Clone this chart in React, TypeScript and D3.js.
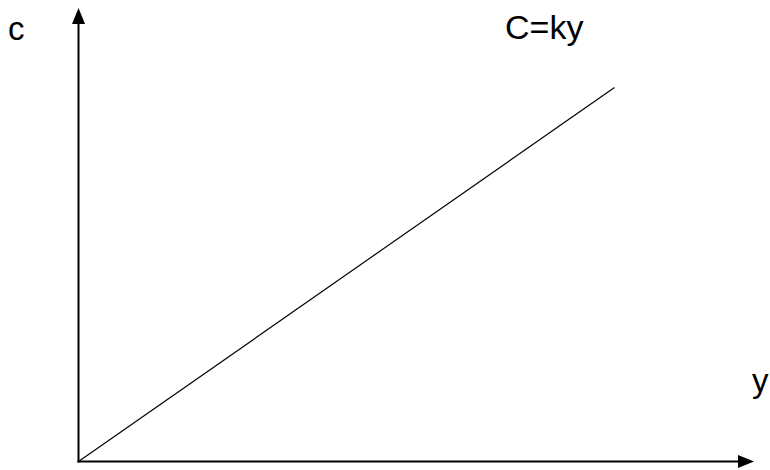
import React from "react";
import * as d3 from "d3";

// Income (y) and consumption (c) along the proportional function C = ky
const incomeValues = [0, 10];
const consumptionValues = [0, 10];
const axisLabels = { x: "y", y: "c" };
const lineLabel = "C=ky";

const W = 770;
const H = 470;
const origin = { x: 78.5, y: 461.5 };
const axisEnd = { x: 754, y: 8 };

export default function App() {
  const xScale = d3.scaleLinear().domain([0, 10]).range([origin.x, 614.5]);
  const yScale = d3.scaleLinear().domain([0, 10]).range([origin.y, 87.5]);

  const points: [number, number][] = incomeValues.map((v, i) => [v, consumptionValues[i]]);
  const line = d3
    .line<[number, number]>()
    .x((d) => xScale(d[0]))
    .y((d) => yScale(d[1]));

  const font = "Liberation Sans, Arial, sans-serif";
  const ah = 16; // arrowhead length
  const aw = 6.5; // arrowhead half-width

  return (
    <svg
      width={W}
      height={H}
      style={{ position: "absolute", left: 0, top: 0, background: "#fff" }}
    >
      {/* vertical axis */}
      <line
        x1={origin.x}
        y1={origin.y + 1}
        x2={origin.x}
        y2={axisEnd.y + ah - 1}
        stroke="#000"
        strokeWidth={2}
      />
      <path
        d={`M${origin.x},${axisEnd.y} L${origin.x - aw},${axisEnd.y + ah} L${origin.x + aw},${axisEnd.y + ah} Z`}
        fill="#000"
      />
      {/* horizontal axis */}
      <line
        x1={origin.x - 1}
        y1={origin.y}
        x2={axisEnd.x - ah + 1}
        y2={origin.y}
        stroke="#000"
        strokeWidth={2}
      />
      <path
        d={`M${axisEnd.x},${origin.y} L${axisEnd.x - ah},${origin.y - aw} L${axisEnd.x - ah},${origin.y + aw} Z`}
        fill="#000"
      />
      {/* C = ky */}
      <path d={line(points) ?? ""} fill="none" stroke="#000" strokeWidth={1.2} />

      <text x={8} y={40} fontFamily={font} fontSize={33} fill="#000">
        {axisLabels.y}
      </text>
      <text x={752} y={392} fontFamily={font} fontSize={33} fill="#000">
        {axisLabels.x}
      </text>
      <text x={505} y={39} fontFamily={font} fontSize={34} fill="#000">
        {lineLabel}
      </text>
    </svg>
  );
}
